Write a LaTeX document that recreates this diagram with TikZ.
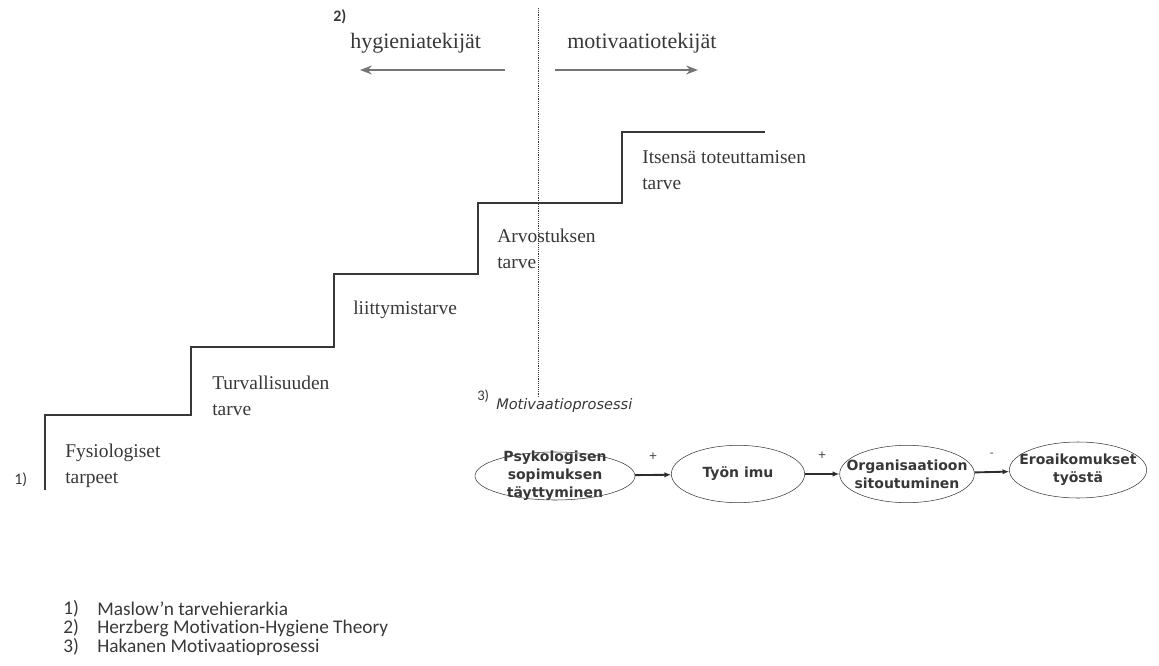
\documentclass[tikz,border=0pt]{standalone}
\usepackage{fontspec}
\setmainfont{Liberation Serif}
\newfontfamily\boxfont{DejaVu Sans}
\newfontfamily\notefont[RawFeature=-liga]{Carlito}
\usetikzlibrary{arrows.meta,shapes.geometric}
\definecolor{ink}{gray}{0.22}
\tikzset{
  need/.style={anchor=west, align=left, inner sep=0pt, text=ink,
    font=\fontsize{14.6}{19.5}\selectfont},
  side/.style={anchor=west, inner sep=0pt, text=ink, font=\fontsize{16.5}{20}\selectfont},
  stage/.style={ellipse, draw=ink, thin, inner xsep=-12pt, inner ysep=-14pt, align=center,
    text=ink, font=\boxfont\bfseries\fontsize{10.5}{13.5}\selectfont},
  flow/.style={-{Latex[length=5pt,width=4pt]}, line width=1.4pt, draw=ink!80!black},
  sign/.style={midway, above=11pt, inner sep=0pt, font=\boxfont\fontsize{8}{8}\selectfont, text=ink},
  note/.style={anchor=west, inner sep=0pt, text=ink, font=\notefont\fontsize{14.5}{17}\selectfont},
}
\begin{document}
\begin{tikzpicture}[x=0.75pt, y=-0.75pt, >=Stealth]
    \useasboundingbox (0,0) rectangle (1159,666);
    % Maslow
    \draw[ink, line width=1.5pt] (45,490) -- (45,415) -- (191,415) -- (191,347) -- (334,347)
        -- (334,274) -- (478,274) -- (478,203) -- (622,203) -- (622,132) -- (765,132);
    \node[need] (fys) at (65,466) {Fysiologiset\\tarpeet};
    \node[need] (tur) at (212,396) {Turvallisuuden\\tarve};
    \node[need] (lii) at (353,310) {liittymistarve};
    \node[need] (arv) at (497,249) {Arvostuksen\\tarve};
    \node[need] (its) at (642,170) {Itsensä toteuttamisen\\tarve};
    \node[anchor=west, inner sep=0pt, text=ink, font=\notefont\fontsize{12}{12}\selectfont] (n1) at (14,480) {1)};
    % Herzberg
    \draw[ink, line width=0.7pt, dash pattern=on 0.7pt off 0.7pt] (538,8) -- (538,398);
    \node[anchor=west, inner sep=0pt, text=ink, font=\notefont\bfseries\fontsize{12}{12}\selectfont] (n2) at (333,17) {2)};
    \node[side] (hyg) at (350,43) {hygieniatekijät};
    \node[side] (mot) at (567,43) {motivaatiotekijät};
    \coordinate (hygA) at (505,70);
    \coordinate (hygB) at (360,70);
    \coordinate (motA) at (555,70);
    \coordinate (motB) at (698,70);
    \draw[->, ink!70, line width=1.3pt] (hygA) -- (hygB);
    \draw[->, ink!70, line width=1.3pt] (motA) -- (motB);
    % Hakanen
    \node[anchor=west, inner sep=0pt, text=ink, font=\notefont\fontsize{11}{11}\selectfont] (n3) at (477,396) {3)};
    \node[anchor=west, inner sep=0pt, text=ink, font=\boxfont\itshape\fontsize{10.9}{12}\selectfont] (mp) at (496,405) {Motivaatioprosessi};
    \node[stage, minimum width=120pt, minimum height=36pt] (psy) at (555,476) {Psykologisen\\sopimuksen\\täyttyminen};
    \node[stage, minimum width=100pt, minimum height=43pt] (imu) at (738,474) {Työn imu};
    \node[stage, minimum width=101pt, minimum height=43pt] (org) at (907,474) {Organisaatioon\\sitoutuminen};
    \node[stage, minimum width=103pt, minimum height=42pt] (ero) at (1078,470) {Eroaikomukset\\työstä};
    \draw[flow] (psy) -- node[sign] {+} (imu);
    \draw[flow] (imu) -- node[sign] {+} (org);
    \draw[flow] (org) -- node[sign] {-} (ero);
    % legend
    \node[note] (l1) at (63,609) {1)};
    \node[note] (t1) at (97,609) {Maslow’n tarvehierarkia};
    \node[note] (l2) at (63,628) {2)};
    \node[note] (t2) at (97,628) {Herzberg Motivation-Hygiene Theory};
    \node[note] (l3) at (63,647) {3)};
    \node[note] (t3) at (97,647) {Hakanen Motivaatioprosessi};
\end{tikzpicture}
\end{document}
